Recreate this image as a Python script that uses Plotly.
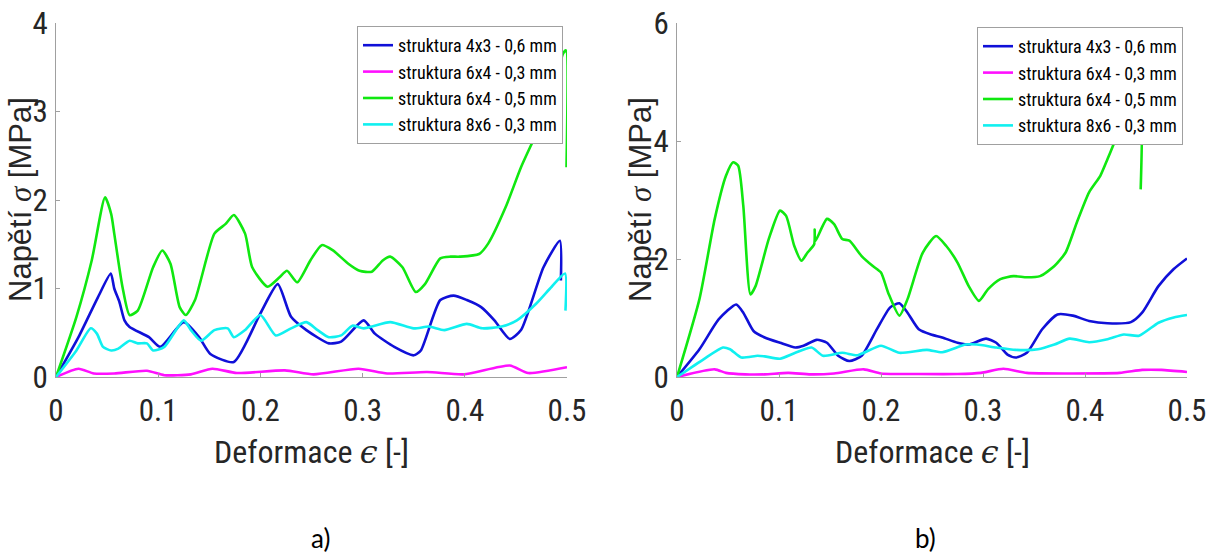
import plotly.graph_objects as go

# ---------------- data: panel a) ----------------
a_blue_x = [0, 0.022, 0.041, 0.0536, 0.057, 0.062, 0.067, 0.072, 0.091, 0.102, 0.125, 0.14, 0.151, 0.174, 0.2, 0.217, 0.23, 0.245, 0.267, 0.279, 0.301, 0.312, 0.331, 0.35, 0.357, 0.376, 0.389, 0.402, 0.416, 0.429, 0.444, 0.455, 0.477, 0.493, 0.494]
a_blue_y = [0, 0.45, 0.9, 1.17, 1.0, 0.85, 0.64, 0.565, 0.45, 0.34, 0.62, 0.45, 0.26, 0.17, 0.72, 1.05, 0.68, 0.53, 0.38, 0.40, 0.64, 0.49, 0.34, 0.245, 0.30, 0.87, 0.92, 0.87, 0.79, 0.64, 0.43, 0.53, 1.24, 1.54, 1.09]

a_mag_x = [0, 0.022, 0.037, 0.057, 0.089, 0.106, 0.132, 0.153, 0.177, 0.224, 0.252, 0.296, 0.324, 0.363, 0.399, 0.444, 0.462, 0.5]
a_mag_y = [0, 0.094, 0.04, 0.04, 0.07, 0.02, 0.03, 0.094, 0.045, 0.075, 0.03, 0.094, 0.04, 0.056, 0.03, 0.13, 0.045, 0.11]

a_green_x = [0, 0.02, 0.035, 0.048, 0.054, 0.057, 0.065, 0.072, 0.08, 0.095, 0.104, 0.112, 0.121, 0.127, 0.136, 0.155, 0.166, 0.174, 0.185, 0.192, 0.207, 0.219, 0.226, 0.236, 0.249, 0.26, 0.271, 0.286, 0.297, 0.309, 0.32, 0.327, 0.339, 0.352, 0.361, 0.376, 0.386, 0.395, 0.414, 0.423, 0.44, 0.455, 0.47, 0.485, 0.496, 0.499, 0.4995]
a_green_y = [0, 0.68, 1.32, 2.03, 1.84, 1.62, 1.02, 0.70, 0.75, 1.24, 1.43, 1.28, 0.79, 0.70, 0.87, 1.62, 1.73, 1.83, 1.62, 1.24, 1.02, 1.13, 1.2, 1.07, 1.32, 1.49, 1.43, 1.28, 1.2, 1.19, 1.32, 1.36, 1.24, 0.96, 1.05, 1.34, 1.36, 1.36, 1.39, 1.51, 1.92, 2.37, 2.75, 3.16, 3.65, 3.69, 2.37]

a_cyan_x = [0, 0.02, 0.034, 0.04, 0.046, 0.054, 0.061, 0.072, 0.08, 0.089, 0.095, 0.106, 0.125, 0.132, 0.142, 0.155, 0.168, 0.174, 0.185, 0.2, 0.215, 0.23, 0.245, 0.256, 0.267, 0.279, 0.29, 0.301, 0.327, 0.35, 0.365, 0.38, 0.402, 0.417, 0.436, 0.451, 0.47, 0.485, 0.498, 0.4985]
a_cyan_y = [0, 0.3, 0.55, 0.49, 0.34, 0.30, 0.32, 0.41, 0.38, 0.38, 0.30, 0.34, 0.64, 0.53, 0.41, 0.53, 0.55, 0.45, 0.53, 0.70, 0.47, 0.55, 0.62, 0.53, 0.45, 0.47, 0.58, 0.55, 0.62, 0.55, 0.57, 0.53, 0.60, 0.55, 0.57, 0.64, 0.83, 1.02, 1.17, 0.75]

# ---------------- data: panel b) ----------------
b_blue_x = [0, 0.022, 0.041, 0.058, 0.065, 0.075, 0.086, 0.101, 0.116, 0.124, 0.137, 0.147, 0.158, 0.169, 0.181, 0.196, 0.209, 0.218, 0.226, 0.237, 0.249, 0.26, 0.275, 0.286, 0.303, 0.313, 0.324, 0.332, 0.343, 0.358, 0.373, 0.388, 0.404, 0.422, 0.445, 0.456, 0.472, 0.487, 0.5]
b_blue_y = [0, 0.47, 0.98, 1.23, 1.09, 0.78, 0.67, 0.58, 0.50, 0.53, 0.63, 0.58, 0.36, 0.27, 0.36, 0.81, 1.18, 1.25, 1.09, 0.81, 0.72, 0.67, 0.58, 0.55, 0.65, 0.58, 0.38, 0.33, 0.41, 0.81, 1.06, 1.04, 0.95, 0.91, 0.93, 1.09, 1.54, 1.83, 2.01]

b_mag_x = [0, 0.037, 0.048, 0.067, 0.086, 0.109, 0.131, 0.154, 0.183, 0.2, 0.237, 0.275, 0.298, 0.32, 0.343, 0.388, 0.434, 0.456, 0.475, 0.5]
b_mag_y = [0, 0.13, 0.07, 0.045, 0.045, 0.07, 0.045, 0.06, 0.13, 0.06, 0.05, 0.05, 0.07, 0.14, 0.07, 0.06, 0.07, 0.12, 0.12, 0.085]

b_green_x = [0, 0.022, 0.037, 0.048, 0.055, 0.06, 0.065, 0.072, 0.077, 0.09, 0.101, 0.107, 0.115, 0.122, 0.128, 0.1345, 0.135, 0.1355, 0.147, 0.154, 0.162, 0.169, 0.181, 0.192, 0.2, 0.207, 0.218, 0.226, 0.241, 0.254, 0.264, 0.275, 0.286, 0.296, 0.305, 0.317, 0.33, 0.343, 0.356, 0.37, 0.381, 0.392, 0.404, 0.415, 0.422, 0.43, 0.44, 0.454, 0.4546]
b_green_y = [0, 1.32, 2.68, 3.41, 3.64, 3.58, 2.9, 1.40, 1.54, 2.34, 2.82, 2.73, 2.22, 1.97, 2.11, 2.25, 2.5, 2.3, 2.68, 2.59, 2.34, 2.31, 2.05, 1.88, 1.77, 1.43, 1.04, 1.32, 2.11, 2.39, 2.22, 1.94, 1.54, 1.29, 1.49, 1.66, 1.71, 1.69, 1.71, 1.88, 2.11, 2.62, 3.13, 3.41, 3.69, 4.03, 4.5, 4.9, 3.18]

b_cyan_x = [0, 0.026, 0.045, 0.052, 0.063, 0.079, 0.086, 0.101, 0.116, 0.132, 0.143, 0.162, 0.177, 0.2, 0.218, 0.245, 0.26, 0.283, 0.294, 0.313, 0.332, 0.354, 0.37, 0.385, 0.404, 0.422, 0.438, 0.453, 0.472, 0.487, 0.5]
b_cyan_y = [0, 0.30, 0.50, 0.47, 0.33, 0.36, 0.35, 0.31, 0.41, 0.50, 0.36, 0.41, 0.37, 0.53, 0.41, 0.46, 0.42, 0.55, 0.55, 0.50, 0.46, 0.47, 0.55, 0.65, 0.59, 0.64, 0.72, 0.70, 0.92, 1.01, 1.05]

series_names = ["struktura 4x3 - 0,6 mm", "struktura 6x4 - 0,3 mm",
                "struktura 6x4 - 0,5 mm", "struktura 8x6 - 0,3 mm"]
series_colors = ["#1010d8", "#ff10ff", "#10e810", "#10f0f0"]

x_ticks = [0, 0.1, 0.2, 0.3, 0.4, 0.5]
x_ticklabels = ["0", "0.1", "0.2", "0.3", "0.4", "0.5"]
a_y_ticks = [0, 1, 2, 3, 4]
b_y_ticks = [0, 2, 4, 6]

x_title_text = 'Deformace <span style="font-family:DejaVu Serif, Liberation Serif, serif"><i>ϵ</i></span> [-]'
y_title_text = 'Napětí <span style="font-family:Liberation Serif, DejaVu Serif, serif"><i>σ</i></span> [MPa]'
panel_labels = ["a)", "b)"]

NARROW = "Liberation Sans Narrow, Arial Narrow, Roboto Condensed, DejaVu Sans Condensed, sans-serif"
SANS = "Liberation Sans, Arial, sans-serif"

W, H = 1215, 556


def px(x):
    return x / W


def py(y):
    return 1 - y / H


fig = go.Figure()

panels = [
    ("x", "y", "legend", [(a_blue_x, a_blue_y), (a_mag_x, a_mag_y), (a_green_x, a_green_y), (a_cyan_x, a_cyan_y)]),
    ("x2", "y2", "legend2", [(b_blue_x, b_blue_y), (b_mag_x, b_mag_y), (b_green_x, b_green_y), (b_cyan_x, b_cyan_y)]),
]
for xa, ya, lg, data in panels:
    for (xs, ys), name, col in zip(data, series_names, series_colors):
        fig.add_trace(go.Scatter(
            x=xs, y=ys, mode="lines", name=name, xaxis=xa, yaxis=ya, legend=lg,
            line=dict(color=col, width=2.6, shape="spline", smoothing=0.6),
        ))

ydom = [py(377), py(23)]

axis_common = dict(
    showline=True, linecolor="#a0a0a0", linewidth=1, mirror=False,
    ticks="inside", ticklen=4, tickcolor="#a0a0a0",
    showgrid=False, zeroline=False, automargin=False,
    ticklabeloverflow="allow",
    tickfont=dict(family=NARROW, size=31, color="#262626"),
)

legend_common = dict(xanchor="right", yanchor="top",
                     bgcolor="white", bordercolor="#a0a0a0", borderwidth=1,
                     font=dict(family=NARROW, size=18, color="black"),
                     itemwidth=30, tracegroupgap=0)

annotations = []
for cx, lx, lab in zip([311, 932], [320, 925], panel_labels):
    annotations.append(dict(text=x_title_text, x=px(cx), y=py(452), xref="paper", yref="paper",
                            xanchor="center", yanchor="middle", showarrow=False,
                            font=dict(family=NARROW, size=32, color="#262626")))
    annotations.append(dict(text=lab, x=px(lx), y=py(538), xref="paper", yref="paper",
                            xanchor="center", yanchor="middle", showarrow=False,
                            font=dict(family="Lato, Open Sans, sans-serif", size=26, color="black")))
for cx in [20, 640]:
    annotations.append(dict(text=y_title_text, x=px(cx), y=py(200), xref="paper", yref="paper",
                            xanchor="center", yanchor="middle", textangle=-90, showarrow=False,
                            font=dict(family=SANS, size=31, color="#262626")))

fig.update_layout(
    width=W, height=H,
    margin=dict(l=0, r=0, t=0, b=0, autoexpand=False),
    paper_bgcolor="white", plot_bgcolor="white",
    xaxis=dict(domain=[px(56), px(567)], range=[0, 0.5], tickvals=x_ticks, ticktext=x_ticklabels,
               anchor="y", ticklabelstandoff=6, **axis_common),
    yaxis=dict(domain=ydom, range=[0, 4], tickvals=a_y_ticks, anchor="x",
               ticklabelstandoff=1, **axis_common),
    xaxis2=dict(domain=[px(677), px(1187)], range=[0, 0.5], tickvals=x_ticks, ticktext=x_ticklabels,
                anchor="y2", ticklabelstandoff=6, **axis_common),
    yaxis2=dict(domain=ydom, range=[0, 6], tickvals=b_y_ticks, anchor="x2",
                ticklabelstandoff=1, **axis_common),
    legend=dict(x=px(563), y=py(26), **legend_common),
    legend2=dict(x=px(1183), y=py(27), **legend_common),
    annotations=annotations,
)

fig.write_html("out.html", config={"displayModeBar": False},
               post_script="document.body.style.margin='0';")
